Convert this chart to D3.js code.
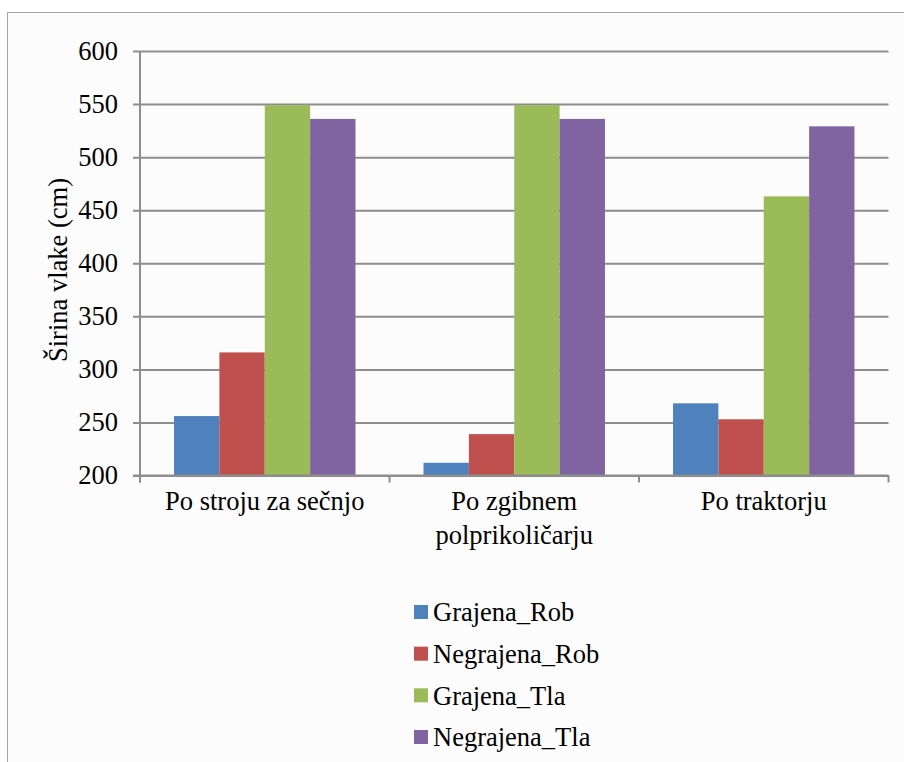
<!DOCTYPE html>
<html>
<head>
<meta charset="utf-8">
<script src="https://cdn.jsdelivr.net/npm/d3@7"></script>
<style>
  html, body { margin: 0; padding: 0; background: #ffffff; }
  svg { display: block; }
  svg text { font-family: "Times New Roman", Tinos, "Liberation Serif", serif; fill: #000; }
</style>
</head>
<body>
<svg id="chart" width="904" height="762"></svg>
<script>
// Road width by position along the skid trail
const categories = [["Po stroju za sečnjo"], ["Po zgibnem", "polprikoličarju"], ["Po traktorju"]];
const categoryKeys = ["Po stroju za sečnjo", "Po zgibnem polprikoličarju", "Po traktorju"];
const seriesNames = ["Grajena_Rob", "Negrajena_Rob", "Grajena_Tla", "Negrajena_Tla"];
const grajenaRob    = [256, 212, 268];
const negrajenaRob  = [316, 239, 253];
const grajenaTla    = [549, 549, 463];
const negrajenaTla  = [536, 536, 529];
const seriesColors  = ["#4f81bd", "#c0504d", "#9bbb59", "#8064a2"];
const yTicks = [200, 250, 300, 350, 400, 450, 500, 550, 600];
const yTitle = "Širina vlake (cm)";

const seriesValues = [grajenaRob, negrajenaRob, grajenaTla, negrajenaTla];

const svg = d3.select("#chart");
const fontSize = 26.5;
const serifFont = "'Times New Roman', Tinos, 'Liberation Serif', serif";

// outer chart frame
svg.append("rect")
  .attr("x", 7.5).attr("y", 12.5)
  .attr("width", 920).attr("height", 780)
  .attr("fill", "#fcfcfc")
  .attr("stroke", "#a3a3a3").attr("stroke-width", 1);

const plot = { left: 140, right: 888.5, top: 51, bottom: 475.5 };

const y = d3.scaleLinear().domain([200, 600]).range([plot.bottom, plot.top]);
const x = d3.scaleBand().domain(categoryKeys).range([plot.left, plot.right]).padding(0);
const xs = d3.scaleBand().domain(seriesNames).range([0, x.bandwidth()])
  .paddingInner(0).paddingOuter(0.75);

const gridColor = "#8d8d8d";

// horizontal gridlines with left tick marks
const yAxis = d3.axisLeft(y).tickValues(yTicks).tickSize(-(plot.right - plot.left)).tickSizeOuter(0).tickPadding(22);
const gy = svg.append("g").attr("transform", `translate(${plot.left},0)`).call(yAxis)
  .attr("font-family", serifFont).attr("font-size", fontSize);
gy.select(".domain").remove();
gy.selectAll(".tick line").attr("stroke", gridColor).attr("stroke-width", 2).attr("x1", -7);
gy.selectAll(".tick text").attr("fill", "#000");

// bars
seriesNames.forEach((name, si) => {
  svg.append("g").selectAll("rect")
    .data(categoryKeys.map((c, ci) => ({ c, v: seriesValues[si][ci] })))
    .join("rect")
    .attr("x", d => x(d.c) + xs(name))
    .attr("width", xs.bandwidth())
    .attr("y", d => y(d.v))
    .attr("height", d => y(200) - y(d.v))
    .attr("fill", seriesColors[si]);
});

// axes lines
svg.append("line")
  .attr("x1", plot.left).attr("x2", plot.left)
  .attr("y1", plot.top).attr("y2", plot.bottom + 7)
  .attr("stroke", gridColor).attr("stroke-width", 2);
svg.append("line")
  .attr("x1", plot.left - 7).attr("x2", plot.right)
  .attr("y1", plot.bottom).attr("y2", plot.bottom)
  .attr("stroke", gridColor).attr("stroke-width", 2);

// category boundary ticks
const boundaries = categoryKeys.map(c => x(c)).concat([plot.right]);
svg.append("g").selectAll("line").data(boundaries).join("line")
  .attr("x1", d => d).attr("x2", d => d)
  .attr("y1", plot.bottom).attr("y2", plot.bottom + 7)
  .attr("stroke", gridColor).attr("stroke-width", 2);

// category labels
categories.forEach((lines, i) => {
  const t = svg.append("text")
    .attr("x", x(categoryKeys[i]) + x.bandwidth() / 2)
    .attr("y", 510)
    .attr("text-anchor", "middle")
    .attr("font-family", serifFont)
    .attr("font-size", fontSize);
  lines.forEach((ln, li) => {
    t.append("tspan").attr("x", x(categoryKeys[i]) + x.bandwidth() / 2)
      .attr("dy", li === 0 ? 0 : 34).text(ln);
  });
});

// y-axis title
svg.append("text")
  .attr("transform", "translate(67,270) rotate(-90)")
  .attr("text-anchor", "middle")
  .attr("font-family", serifFont)
  .attr("font-size", fontSize)
  .text(yTitle);

// legend
const legend = svg.append("g");
const rowY = d3.scalePoint().domain(seriesNames).range([612, 737]);
seriesNames.forEach((name, i) => {
  legend.append("rect")
    .attr("x", 414).attr("y", rowY(name) - 7)
    .attr("width", 14).attr("height", 14)
    .attr("fill", seriesColors[i]);
  legend.append("text")
    .attr("x", 433).attr("y", rowY(name))
    .attr("dy", "0.35em")
    .attr("font-family", serifFont)
    .attr("font-size", fontSize)
    .text(name);
});
</script>
</body>
</html>
